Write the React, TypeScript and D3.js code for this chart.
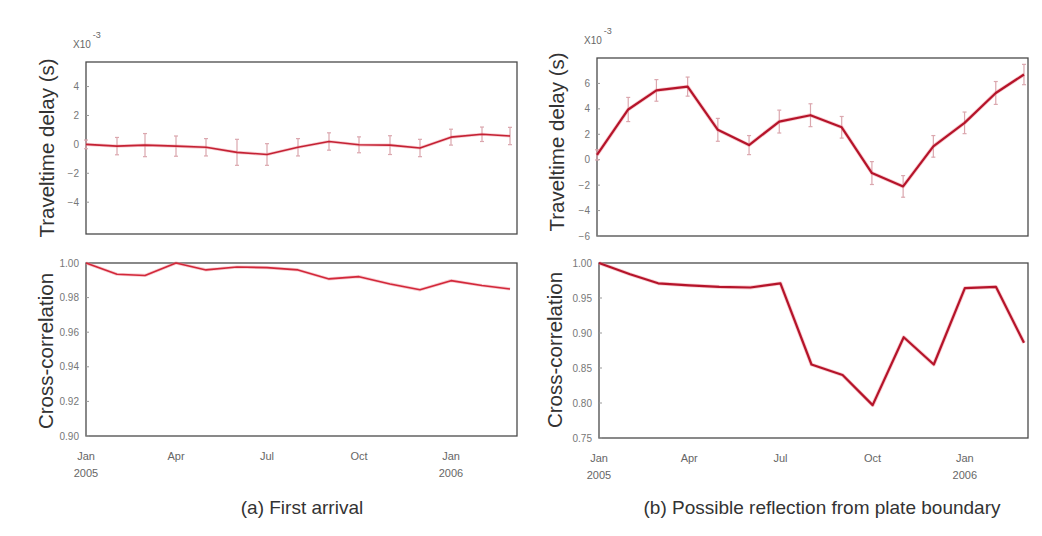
import React from 'react';
import * as d3 from 'd3';

// monthly samples, Jan 2005 .. Mar 2006
const months = [
  '2005-01', '2005-02', '2005-03', '2005-04', '2005-05', '2005-06', '2005-07', '2005-08',
  '2005-09', '2005-10', '2005-11', '2005-12', '2006-01', '2006-02', '2006-03'
];
const xTickMonths = ['2005-01', '2005-04', '2005-07', '2005-10', '2006-01'];
const xTickLabels = [['Jan', '2005'], ['Apr'], ['Jul'], ['Oct'], ['Jan', '2006']];

// (a) first arrival, delay in 1e-3 s
const delayA = [0, -0.12, -0.05, -0.12, -0.2, -0.55, -0.7, -0.2, 0.2, -0.03, -0.05, -0.25, 0.5, 0.7, 0.58];
const delayErrA = [0.3, 0.6, 0.8, 0.7, 0.6, 0.9, 0.75, 0.6, 0.6, 0.55, 0.65, 0.6, 0.55, 0.5, 0.6];
const corrA = [1.0, 0.9935, 0.9928, 1.0, 0.996, 0.9977, 0.9973, 0.996, 0.9908, 0.9921, 0.9879, 0.9845, 0.9898, 0.987, 0.985];

// (b) possible reflection from plate boundary
const delayB = [0.38, 3.95, 5.45, 5.75, 2.35, 1.15, 3.0, 3.5, 2.55, -1.05, -2.1, 1.05, 2.9, 5.25, 6.7];
const delayErrB = [0.4, 0.95, 0.85, 0.75, 0.9, 0.75, 0.9, 0.9, 0.85, 0.9, 0.85, 0.85, 0.85, 0.9, 0.8];
const corrB = [1.0, 0.984, 0.971, 0.968, 0.966, 0.965, 0.971, 0.855, 0.84, 0.797, 0.894, 0.855, 0.964, 0.966, 0.886];

const delayTicksA = [-4, -2, 0, 2, 4];
const delayTicksB = [-6, -4, -2, 0, 2, 4, 6];
const corrTicksA = [0.9, 0.92, 0.94, 0.96, 0.98, 1.0];
const corrTicksB = [0.75, 0.8, 0.85, 0.9, 0.95, 1.0];

const parse = d3.timeParse('%Y-%m');
const dates = months.map(m => parse(m) as Date);
const font = 'Liberation Sans, Arial, sans-serif';

type PanelProps = {
  left: number; right: number; top: number; bottom: number;
  padDays: number; // axis runs a few days past the last sample
  yDomain: [number, number];
  yTicks: number[];
  fmt: (v: number) => string;
  values: number[];
  errors?: number[];
  lineWidth: number;
  color: string;
  exponent?: boolean;
  xAxis?: boolean;
};

const Panel = (p: PanelProps) => {
  const x = d3.scaleTime()
    .domain([dates[0], d3.timeDay.offset(dates[dates.length - 1], p.padDays)])
    .range([p.left, p.right]);
  const y = d3.scaleLinear().domain(p.yDomain).range([p.bottom, p.top]);
  const line = d3.line<number>()
    .x((_, i) => x(dates[i]))
    .y(d => y(d));

  return (
    <g>
      <rect x={p.left} y={p.top} width={p.right - p.left} height={p.bottom - p.top}
        fill="#fff" stroke="#4a4a4a" strokeWidth={1.3} />
      {p.yTicks.map(t => (
        <g key={t}>
          <line x1={p.left} x2={p.left + 3} y1={y(t)} y2={y(t)} stroke="#999" />
          <text x={p.left - 7} y={y(t)} dy="0.35em" textAnchor="end"
            fontSize={10} fill="#777" fontFamily={font}>{p.fmt(t)}</text>
        </g>
      ))}
      {p.errors && p.values.map((v, i) => {
        const cx = x(dates[i]);
        const e = p.errors![i];
        return (
          <g key={i} stroke="#dba7ae" strokeWidth={1.2}>
            <line x1={cx} x2={cx} y1={y(v - e)} y2={y(v + e)} />
            <line x1={cx - 2} x2={cx + 2} y1={y(v - e)} y2={y(v - e)} />
            <line x1={cx - 2} x2={cx + 2} y1={y(v + e)} y2={y(v + e)} />
          </g>
        );
      })}
      <path d={line(p.values) ?? ''} fill="none" stroke="#f08a94" strokeWidth={p.lineWidth + 1.6}
        strokeOpacity={0.45} strokeLinejoin="round" />
      <path d={line(p.values) ?? ''} fill="none" stroke={p.color} strokeWidth={p.lineWidth}
        strokeLinejoin="round" />
      {p.exponent && (
        <text x={p.left - 13} y={p.top - 14} fontSize={10} fill="#666" fontFamily={font}>
          X10
          <tspan dx={2} dy={-10} fontSize={9}>-3</tspan>
        </text>
      )}
      {p.xAxis && xTickMonths.map((m, i) => (
        <text key={m} x={x(parse(m) as Date)} y={p.bottom + 24} textAnchor="middle"
          fontSize={11} fill="#666" fontFamily={font}>
          {xTickLabels[i].map((s, j) => (
            <tspan key={j} x={x(parse(m) as Date)} dy={j === 0 ? 0 : 17}>{s}</tspan>
          ))}
        </text>
      ))}
    </g>
  );
};

const f0 = d3.format('d');
const f2 = d3.format('.2f');

const YTitle = ({ x, y, text }: { x: number; y: number; text: string }) => (
  <text transform={`translate(${x},${y}) rotate(-90)`} textAnchor="middle" dy="0.35em"
    fontSize={20.5} fill="#333" fontFamily={font}>{text}</text>
);

export default function App() {
  return (
    <svg width={1042} height={536} style={{ position: 'absolute', left: 0, top: 0, background: '#fff' }}>
      <Panel left={86} right={517} top={62} bottom={234} padDays={7}
        yDomain={[-6.2, 5.7]} yTicks={delayTicksA} fmt={f0}
        values={delayA} errors={delayErrA} lineWidth={1.6} color="#c42234" exponent />
      <Panel left={86} right={517} top={263} bottom={436} padDays={7}
        yDomain={[0.9, 1.0]} yTicks={corrTicksA} fmt={f2}
        values={corrA} lineWidth={1.6} color="#d2283a" xAxis />
      <Panel left={597} right={1028} top={58} bottom={236} padDays={4}
        yDomain={[-6, 8]} yTicks={delayTicksB} fmt={f0}
        values={delayB} errors={delayErrB} lineWidth={2.2} color="#b5142a" exponent />
      <Panel left={599} right={1028} top={263} bottom={438} padDays={4}
        yDomain={[0.75, 1.0]} yTicks={corrTicksB} fmt={f2}
        values={corrB} lineWidth={2.2} color="#b5142a" xAxis />
      <YTitle x={47} y={148} text="Traveltime delay (s)" />
      <YTitle x={46} y={351} text="Cross-correlation" />
      <YTitle x={557} y={142} text="Traveltime delay (s)" />
      <YTitle x={555} y={350} text="Cross-correlation" />
      <text x={302} y={514} textAnchor="middle" fontSize={19} fill="#333" fontFamily={font}>(a) First arrival</text>
      <text x={822} y={514} textAnchor="middle" fontSize={19} fill="#333" fontFamily={font}>(b) Possible reflection from plate boundary</text>
    </svg>
  );
}
